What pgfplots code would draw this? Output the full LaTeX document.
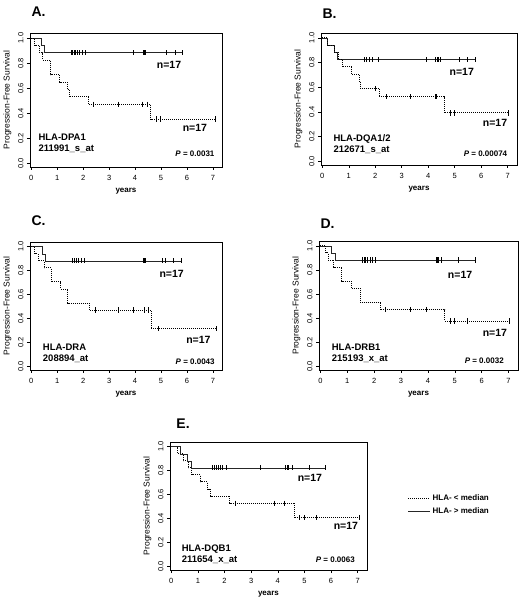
\documentclass[border=0pt]{standalone}
\usepackage{fontspec}
\setmainfont{Liberation Sans}
\usepackage{pgfplots}
\pgfplotsset{compat=1.18}
\pgfplotsset{
  kmaxis/.style={
    scale only axis, clip=false,
    xmin=-0.05, xmax=7.35, ymin=-0.03, ymax=1.04,
    xtick={0,1,2,3,4,5,6,7}, ytick={0,0.2,0.4,0.6,0.8,1.0},
    tick align=outside, tick pos=left,
    major tick length=3pt,
    tick style={black, line width=0.6pt},
    axis line style={line width=0.9pt},
    ticklabel style={font=\fontsize{7.5}{8}\selectfont},
    /pgf/number format/assume math mode=true,
    yticklabel style={rotate=90, anchor=south, /pgf/number format/.cd, fixed, fixed zerofill, precision=1},
    xticklabel style={yshift=-1.5pt, /pgf/number format/.cd, fixed, precision=0},
    xlabel={\textbf{years}},
    xlabel style={font=\fontsize{8}{9}\selectfont, yshift=-1pt},
    ylabel={Progression-Free Survival},
    ylabel style={font=\fontsize{8.5}{9}\selectfont, yshift=0pt},
  },
  hi/.style={const plot, black!85, line width=0.6pt, no marks},
  lo/.style={const plot, black, line width=1pt, densely dotted, no marks},
  cens/.style={only marks, mark=|, mark size=2.6pt, black, mark options={solid, line width=0.7pt}, forget plot},
}
\newcommand{\ptitle}[3]{\node[anchor=west, font=\fontsize{14}{16}\selectfont\bfseries] at (rel axis cs:#1,#2) {#3};}
\newcommand{\ntext}[2]{\node[font=\fontsize{10.5}{12}\selectfont\bfseries] at (rel axis cs:#1,#2) {n=17};}
\begin{document}
\begin{tikzpicture}
\path[use as bounding box] (0pt,0pt) rectangle (520pt,600pt);

% ---------------- A
\begin{axis}[kmaxis, at={(30pt,433pt)}, anchor=south west, width=192pt, height=134pt]
\addplot[hi] coordinates {(0,1)(0.39,0.941)(0.52,0.882)(5.83,0.882)};
\addplot[cens] coordinates {(1.55,0.882)(1.6,0.882)(1.65,0.882)(1.7,0.882)(1.78,0.882)(1.87,0.882)(1.95,0.882)(2.1,0.882)(3.92,0.882)(4.33,0.882)(4.36,0.882)(4.4,0.882)(5.2,0.882)(5.54,0.882)(5.83,0.882)};
\addplot[lo] coordinates {(0,1)(0.13,0.941)(0.32,0.882)(0.45,0.824)(0.75,0.706)(1.1,0.647)(1.38,0.588)(1.46,0.529)(2.2,0.471)(4.6,0.353)(7.1,0.353)};
\addplot[cens] coordinates {(2.4,0.471)(3.35,0.471)(4.27,0.471)(4.47,0.471)(4.82,0.353)(4.97,0.353)(7.1,0.353)};
\ptitle{-0.01}{1.157}{A.}
\ntext{0.724}{0.761}
\ntext{0.859}{0.291}
\node[anchor=west, font=\fontsize{9.5}{11}\selectfont\bfseries, align=left] at (rel axis cs:0.026,0.176) {HLA-DPA1\\211991\_s\_at};
\node[anchor=east, font=\fontsize{8}{9}\selectfont\bfseries] at (rel axis cs:0.979,0.097) {\textit{P} = 0.0031};
\end{axis}

% ---------------- B
\begin{axis}[kmaxis, at={(321pt,435pt)}, anchor=south west, width=196pt, height=132pt]
\addplot[hi] coordinates {(0,1)(0.19,0.941)(0.44,0.882)(0.57,0.824)(5.78,0.824)};
\addplot[cens] coordinates {(1.57,0.824)(1.6,0.824)(1.68,0.824)(1.78,0.824)(1.89,0.824)(2.1,0.824)(3.91,0.824)(4.27,0.824)(4.33,0.824)(4.39,0.824)(4.45,0.824)(5.17,0.824)(5.48,0.824)(5.78,0.824)};
\addplot[lo] coordinates {(0,1)(0.2,0.941)(0.45,0.882)(0.6,0.824)(0.76,0.765)(1.11,0.706)(1.39,0.647)(1.45,0.588)(2.14,0.523)(4.6,0.392)(7.04,0.392)};
\addplot[cens] coordinates {(1.99,0.588)(2.4,0.523)(3.34,0.523)(4.26,0.523)(4.3,0.523)(4.82,0.392)(4.98,0.392)(7.04,0.392)};
\ptitle{-0.01}{1.15}{B.}
\ntext{0.718}{0.707}
\ntext{0.888}{0.32}
\node[anchor=west, font=\fontsize{9.5}{11}\selectfont\bfseries, align=left] at (rel axis cs:0.046,0.16) {HLA-DQA1/2\\212671\_s\_at};
\node[anchor=east, font=\fontsize{8}{9}\selectfont\bfseries] at (rel axis cs:0.968,0.083) {\textit{P} = 0.00074};
\end{axis}

% ---------------- C
\begin{axis}[kmaxis, at={(30pt,230pt)}, anchor=south west, width=192pt, height=128pt]
\addplot[hi] coordinates {(0,1)(0.43,0.941)(0.55,0.882)(5.8,0.882)};
\addplot[cens] coordinates {(1.57,0.882)(1.6,0.882)(1.65,0.882)(1.72,0.882)(1.82,0.882)(1.92,0.882)(2.03,0.882)(4.3,0.882)(4.33,0.882)(4.35,0.882)(4.4,0.882)(5.07,0.882)(5.15,0.882)(5.48,0.882)(5.8,0.882)};
\addplot[lo] coordinates {(0,1)(0.13,0.941)(0.26,0.882)(0.5,0.824)(0.77,0.706)(1.13,0.647)(1.41,0.529)(2.23,0.471)(4.62,0.314)(7.13,0.314)};
\addplot[cens] coordinates {(2.46,0.471)(3.34,0.471)(3.95,0.471)(4.34,0.471)(4.52,0.471)(4.9,0.314)(7.13,0.314)};
\ptitle{-0.01}{1.17}{C.}
\ntext{0.738}{0.75}
\ntext{0.877}{0.234}
\node[anchor=west, font=\fontsize{9.5}{11}\selectfont\bfseries, align=left] at (rel axis cs:0.049,0.128) {HLA-DRA\\208894\_at};
\node[anchor=east, font=\fontsize{8}{9}\selectfont\bfseries] at (rel axis cs:0.98,0.065) {\textit{P} = 0.0043};
\end{axis}

% ---------------- D
\begin{axis}[kmaxis, at={(319pt,230pt)}, anchor=south west, width=199pt, height=129pt]
\addplot[hi] coordinates {(0,1)(0.42,0.941)(0.55,0.882)(5.78,0.882)};
\addplot[cens] coordinates {(1.58,0.882)(1.62,0.882)(1.65,0.882)(1.68,0.882)(1.75,0.882)(1.85,0.882)(1.95,0.882)(2.05,0.882)(4.3,0.882)(4.33,0.882)(4.35,0.882)(4.4,0.882)(4.5,0.882)(5.15,0.882)(5.78,0.882)};
\addplot[lo] coordinates {(0,1)(0.2,0.941)(0.3,0.882)(0.5,0.824)(0.8,0.706)(1.15,0.647)(1.48,0.529)(2.25,0.471)(4.63,0.376)(7.03,0.376)};
\addplot[cens] coordinates {(2.4,0.471)(3.35,0.471)(3.93,0.471)(4.85,0.376)(5.0,0.376)(5.46,0.376)(7.03,0.376)};
\ptitle{-0.01}{1.137}{D.}
\ntext{0.709}{0.735}
\ntext{0.884}{0.284}
\node[anchor=west, font=\fontsize{9.5}{11}\selectfont\bfseries, align=left] at (rel axis cs:0.047,0.133) {HLA-DRB1\\215193\_x\_at};
\node[anchor=east, font=\fontsize{8}{9}\selectfont\bfseries] at (rel axis cs:0.946,0.07) {\textit{P} = 0.0032};
\end{axis}

% ---------------- E
\begin{axis}[kmaxis, at={(170pt,30pt)}, anchor=south west, width=197pt, height=128pt,
  legend style={at={(rel axis cs:1.19,0.51)}, anchor=west, draw=none, fill=none,
    font=\fontsize{8}{9}\selectfont\bfseries, row sep=1pt},
  legend cell align=left,
  legend image code/.code={\draw[#1] (0pt,0pt) -- (22pt,0pt);}]
\addplot[lo] coordinates {(0,1)(0.25,0.941)(0.45,0.882)(0.64,0.824)(0.77,0.765)(1.1,0.706)(1.36,0.647)(1.49,0.588)(2.2,0.529)(4.64,0.41)(7.07,0.41)};
\addlegendentry{HLA- < median}
\addplot[hi] coordinates {(0,1)(0.32,0.941)(0.6,0.882)(0.75,0.824)(5.8,0.824)};
\addlegendentry{HLA- > median}
\addplot[cens] coordinates {(1.53,0.824)(1.6,0.824)(1.68,0.824)(1.75,0.824)(1.83,0.824)(1.92,0.824)(2.05,0.824)(3.35,0.824)(4.3,0.824)(4.35,0.824)(4.4,0.824)(4.55,0.824)(5.2,0.824)(5.8,0.824)};
\addplot[cens] coordinates {(2.4,0.529)(3.88,0.529)(4.26,0.529)(4.82,0.41)(5.0,0.41)(5.45,0.41)(7.07,0.41)};
\ptitle{0.015}{1.146}{E.}
\ntext{0.71}{0.717}
\ntext{0.893}{0.343}
\node[anchor=west, font=\fontsize{9.5}{11}\selectfont\bfseries, align=left] at (rel axis cs:0.042,0.122) {HLA-DQB1\\211654\_x\_at};
\node[anchor=east, font=\fontsize{8}{9}\selectfont\bfseries] at (rel axis cs:0.956,0.083) {\textit{P} = 0.0063};
\end{axis}
\end{tikzpicture}
\end{document}
